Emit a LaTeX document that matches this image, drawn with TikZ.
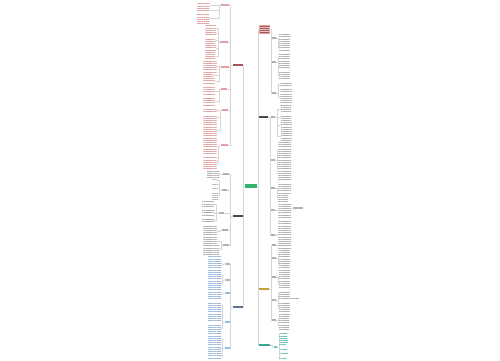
\documentclass[tikz,border=0pt]{standalone}
\usetikzlibrary{patterns.meta}
\definecolor{hubg}{HTML}{35B36F}
\definecolor{redt}{HTML}{E0A2A2}
\definecolor{redm}{HTML}{A05556}
\definecolor{redbox}{HTML}{F2C4C4}
\definecolor{grayt}{HTML}{B0B0B0}
\definecolor{darkm}{HTML}{4A4A4A}
\definecolor{bluet}{HTML}{9ABAD9}
\definecolor{bluem}{HTML}{5A7391}
\definecolor{orgm}{HTML}{C9A040}
\definecolor{tealt}{HTML}{6CC2B8}
\definecolor{tealm}{HTML}{3FA394}
\definecolor{linec}{HTML}{D6D6D6}
\tikzset{
  conn/.style={draw=linec,line width=0.35pt},
  leaf/.style={rectangle,inner sep=0pt,anchor=north west,
    pattern={Lines[distance=2.2pt,line width=0.55pt]},pattern color=#1},
  sub/.style={rectangle,inner sep=0pt,minimum height=1.4pt,fill=#1},
  mainnode/.style={rectangle,inner sep=0pt,minimum height=2.6pt,fill=#1},
  hub/.style={rectangle,inner sep=0pt,minimum width=12pt,minimum height=3.6pt,fill=hubg},
}
% left group: #1 parent, #2 name, #3 x, #4 y, #5 width, #6 leaf x, #7 leaves y/h/w
\newcommand\grpL[7]{%
  \node[sub=\gcol,minimum width=#5pt] (#2) at (#3,#4) {};
  \draw[conn] (#1.west) -- ++(-2,0) |- (#2.east);
  \foreach \yy/\hh/\ww [count=\k] in {#7} {
    \node[leaf=\gcol,minimum width=\ww pt,minimum height=\hh pt] (#2-\k) at (#6,\yy) {};
    \draw[conn] (#2.west) -- ++(-2,0) |- (#2-\k.east);
  }%
}
\newcommand\grpR[7]{%
  \node[sub=\gcol,minimum width=#5pt] (#2) at (#3,#4) {};
  \draw[conn] (#1.east) -- ++(2,0) |- (#2.west);
  \foreach \yy/\hh/\ww [count=\k] in {#7} {
    \node[leaf=\gcol,minimum width=\ww pt,minimum height=\hh pt] (#2-\k) at (#6,\yy) {};
    \draw[conn] (#2.east) -- ++(2,0) |- (#2-\k.west);
  }%
}
\begin{document}
\begin{tikzpicture}[x=1pt,y=-1pt]
\useasboundingbox[fill=white] (0,0) rectangle (500,360);
% hub
\node[hub] (c) at (251,186) {};
% main nodes
\node[mainnode=redm,minimum width=10pt] (L1) at (237.5,65) {};
\node[mainnode=darkm,minimum width=10pt] (L2) at (237.5,216) {};
\node[mainnode=bluem,minimum width=10pt] (L3) at (237.5,307) {};
\node[rectangle,inner sep=0pt,minimum width=10pt,minimum height=8pt,
  preaction={fill=redbox},draw=redt,line width=0.4pt,
  pattern={Lines[distance=2pt,line width=0.6pt]},pattern color=redm] (R1) at (264,29) {};
\node[mainnode=darkm,minimum width=9pt] (R2) at (263.5,117) {};
\node[mainnode=orgm,minimum width=10pt] (R3) at (264,289) {};
\node[mainnode=tealm,minimum width=11pt] (R4) at (264.5,345) {};
\coordinate (ls) at (243.5,186);
\coordinate (rs) at (258,186);
\draw[conn] (c.west) -- (ls) |- (L1.east);
\draw[conn] (ls) |- (L2.east);
\draw[conn] (ls) |- (L3.east);
\draw[conn] (c.east) -- (rs) |- (R1.west);
\draw[conn] (rs) |- (R2.west);
\draw[conn] (rs) |- (R3.west);
\draw[conn] (rs) |- (R4.west);
% left red branch
\def\gcol{redt}
\grpL{L1}{s11}{225}{5}{8}{197}{3/3/12, 8/3/12, 13/10/12}
\grpL{L1}{s12}{224}{42}{8}{205}{25/5/11, 31/4/11, 37/6/10, 45/6/11, 52/7/10}
\grpL{L1}{s13}{225}{67}{8}{203}{60/12/14, 74/2/10, 78/6/12}
\grpL{L1}{s14}{224}{89}{6}{203}{87/8/12, 97/8/12}
\grpL{L1}{s15}{225}{110}{6}{203}{108/4/14, 114/6/14, 122/16/14}
\grpL{L1}{s16}{224}{145}{7}{203}{140/14/14, 156/12/14}
% left gray branch
\def\gcol{grayt}
\grpL{L2}{s21}{226}{174}{6}{207}{171/6/12}
\grpL{L2}{s22}{224}{190}{5}{212}{179/2/5, 183/2/5, 187/2/5, 191/8/6}
\grpL{L2}{s23}{221}{213}{5}{202}{201/6/12, 210/6/12, 218/4/12}
\grpL{L2}{s24}{225}{230}{6}{203}{224/14/14}
\grpL{L2}{s25}{226}{245}{6}{203}{239/4/14, 244/10/16}
% left blue branch
\def\gcol{bluet}
\grpL{L3}{s31}{227}{264}{5}{208}{256/14/13}
\grpL{L3}{s32}{227}{280}{5}{208}{272/6/13, 279/8/13}
\grpL{L3}{s33}{227}{293}{5}{208}{289/10/13}
\grpL{L3}{s34}{227}{322}{5}{208}{301/8/13, 311/10/13, 323/10/13}
\grpL{L3}{s35}{227}{348}{5}{208}{335/8/13, 344/8/13, 353/6/13}
% right R1
\def\gcol{grayt}
\grpR{R1}{r11}{274}{38}{4}{279}{33/10/11, 45/6/11}
\grpR{R1}{r12}{274}{62}{4}{279}{53/7/11, 61/7/11, 70/9/11}
\grpR{R1}{r13}{274}{93}{4}{280}{82/4/12, 88/18/12}
% right R2
\grpR{R2}{r21}{273}{117}{4}{281}{106/6/10, 114/6/10, 121/8/11, 131/9/11}
\grpR{R2}{r22}{273}{160}{4}{278}{142/16/13, 160/20/13}
\grpR{R2}{r23}{273}{188}{4}{278}{183/10/13, 195/6/10}
\grpR{R2}{r24}{273}{210}{4}{278}{203/14/13}
\grpR{R2}{r25}{273}{235}{4}{278}{220/28/13}
\node[sub=grayt,minimum width=10pt] (x1) at (298,208) {};
\draw[conn] (r24-1.east) -- (x1.west);
% right R3
\grpR{R3}{r31}{274}{245}{4}{279}{240/10/11}
\grpR{R3}{r32}{274}{258}{4}{279}{251/6/11, 258/12/11}
\grpR{R3}{r33}{274}{277}{4}{279}{272/8/11, 281/6/11}
\grpR{R3}{r34}{274}{300}{4}{279}{290/6/11, 297/2/20, 301/14/11}
\grpR{R3}{r35}{274}{320}{4}{279}{316/4/10, 321/8/10}
% right R4
\def\gcol{tealt}
\grpR{R4}{r41}{275}{347}{3}{279}{332/2/8, 336/2/8, 340/2/9, 344/2/7, 348/2/8, 352/2/9, 356/2/7}
\end{tikzpicture}
\end{document}
